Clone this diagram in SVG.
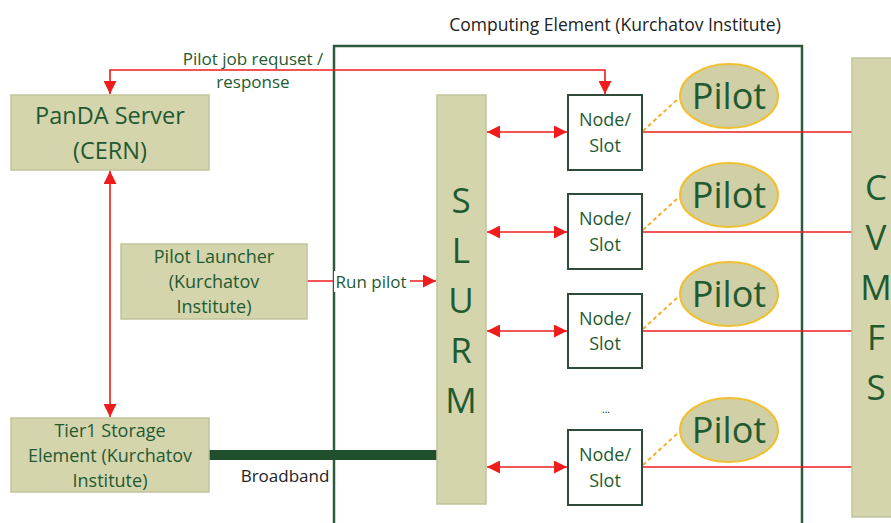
<svg xmlns="http://www.w3.org/2000/svg" width="891" height="523" viewBox="0 0 891 523">
<defs>
<style>
.box{fill:#d4d4ad;stroke:#c2c29c;stroke-width:1.5}
.t{font-family:"Open Sans","Liberation Sans",sans-serif;fill:#1f5a30;text-anchor:middle}
.k{font-family:"Open Sans","Liberation Sans",sans-serif;fill:#222;text-anchor:middle}
.node{fill:#fff;stroke:#2e4a38;stroke-width:2}
.pilot{fill:#d0cfa6;stroke:#f0c030;stroke-width:2}
.red{stroke:#ee1c1c;stroke-width:1.6;fill:none}
.dash{stroke:#f0b030;stroke-width:2;stroke-dasharray:4 3;fill:none}
</style>
<marker id="ah2" viewBox="0 0 10 10" refX="10" refY="5" markerWidth="14" markerHeight="13" markerUnits="userSpaceOnUse" orient="auto-start-reverse">
<path d="M0,0 L10,5 L0,10 z" fill="#ee1c1c"/>
</marker>
</defs>
<rect width="891" height="523" fill="#fff"/>

<g id="ce-frame">
<path d="M334,525 V46 H802 V525" fill="none" stroke="#2d5a3d" stroke-width="2.5"/>
<text class="k" x="615" y="31" font-size="17.5">Computing Element (Kurchatov Institute)</text>
</g>

<g id="connectors">
<path class="red" d="M110,94 V70 H605 V94" marker-start="url(#ah2)" marker-end="url(#ah2)"/>
<text class="t" x="253" y="65" font-size="17">Pilot job requset /</text>
<text class="t" x="253" y="88" font-size="17">response</text>
<path class="red" d="M110,171 V417" marker-start="url(#ah2)" marker-end="url(#ah2)"/>
<path class="red" d="M307,281 H436" marker-end="url(#ah2)"/>
<rect x="334" y="271" width="76" height="21" fill="#fff"/>
<text class="t" x="371" y="288" font-size="17">Run pilot</text>
<path d="M209,455 H437" stroke="#1f4f2c" stroke-width="10"/>
<text class="k" x="285" y="482" font-size="17">Broadband</text>
<path class="red" d="M487,132 H567" marker-start="url(#ah2)" marker-end="url(#ah2)"/>
<path class="red" d="M487,232 H567" marker-start="url(#ah2)" marker-end="url(#ah2)"/>
<path class="red" d="M487,331 H567" marker-start="url(#ah2)" marker-end="url(#ah2)"/>
<path class="red" d="M487,467 H567" marker-start="url(#ah2)" marker-end="url(#ah2)"/>
<path class="red" d="M642,132 H852"/>
<path class="red" d="M642,232 H852"/>
<path class="red" d="M642,331 H852"/>
<path class="red" d="M642,467 H852"/>
<path class="dash" d="M643,131 L679,98"/>
<path class="dash" d="M643,230 L679,197"/>
<path class="dash" d="M643,329 L679,296"/>
<path class="dash" d="M643,465 L679,432"/>
</g>

<g id="panda">
<rect class="box" x="11" y="95" width="198" height="75"/>
<text class="t" x="110" y="124" font-size="23.5">PanDA Server</text>
<text class="t" x="110" y="159" font-size="23.5">(CERN)</text>
</g>

<g id="launcher">
<rect class="box" x="121" y="244" width="186" height="75"/>
<text class="t" x="214" y="263" font-size="18">Pilot Launcher</text>
<text class="t" x="214" y="288" font-size="18">(Kurchatov</text>
<text class="t" x="214" y="313" font-size="18">Institute)</text>
</g>

<g id="tier1">
<rect class="box" x="11" y="418" width="198" height="74"/>
<text class="t" x="110" y="437" font-size="18">Tier1 Storage</text>
<text class="t" x="110" y="462" font-size="18">Element (Kurchatov</text>
<text class="t" x="110" y="487" font-size="18">Institute)</text>
</g>

<g id="slurm">
<rect class="box" x="437" y="95" width="49" height="409"/>
<text class="t" x="461" y="213" font-size="35">S</text>
<text class="t" x="461" y="263" font-size="35">L</text>
<text class="t" x="461" y="313" font-size="35">U</text>
<text class="t" x="461" y="363" font-size="35">R</text>
<text class="t" x="461" y="413" font-size="35">M</text>
</g>

<g id="cvmfs">
<rect class="box" x="852" y="58" width="45" height="459"/>
<text class="t" x="876" y="200" font-size="35">C</text>
<text class="t" x="876" y="250" font-size="35">V</text>
<text class="t" x="876" y="300" font-size="35">M</text>
<text class="t" x="876" y="350" font-size="35">F</text>
<text class="t" x="876" y="400" font-size="35">S</text>
</g>

<g id="node1">
<rect class="node" x="568" y="95" width="74" height="75"/>
<text class="t" x="605" y="126" font-size="18">Node/</text>
<text class="t" x="605" y="152" font-size="18">Slot</text>
</g>
<g id="node2">
<rect class="node" x="568" y="194" width="74" height="75"/>
<text class="t" x="605" y="225" font-size="18">Node/</text>
<text class="t" x="605" y="251" font-size="18">Slot</text>
</g>
<g id="node3">
<rect class="node" x="568" y="294" width="74" height="74"/>
<text class="t" x="605" y="325" font-size="18">Node/</text>
<text class="t" x="605" y="350" font-size="18">Slot</text>
</g>
<text class="k" x="606" y="413" font-size="10">...</text>
<g id="node4">
<rect class="node" x="568" y="430" width="74" height="75"/>
<text class="t" x="605" y="461" font-size="18">Node/</text>
<text class="t" x="605" y="487" font-size="18">Slot</text>
</g>

<g id="pilot1">
<ellipse class="pilot" cx="729" cy="96" rx="49" ry="32"/>
<text class="t" x="729" y="109" font-size="36">Pilot</text>
</g>
<g id="pilot2">
<ellipse class="pilot" cx="729" cy="195" rx="49" ry="32"/>
<text class="t" x="729" y="208" font-size="36">Pilot</text>
</g>
<g id="pilot3">
<ellipse class="pilot" cx="729" cy="294" rx="49" ry="32"/>
<text class="t" x="729" y="307" font-size="36">Pilot</text>
</g>
<g id="pilot4">
<ellipse class="pilot" cx="729" cy="430" rx="49" ry="32"/>
<text class="t" x="729" y="443" font-size="36">Pilot</text>
</g>
</svg>
